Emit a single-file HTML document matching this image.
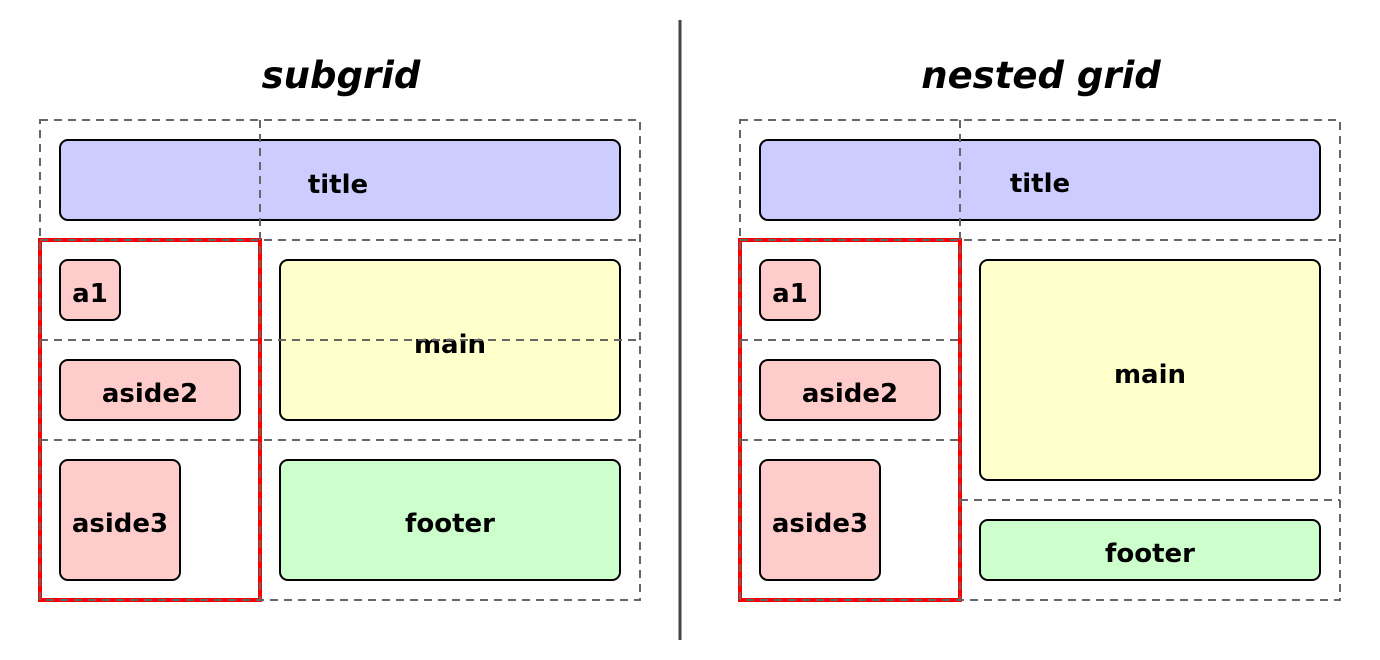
<!DOCTYPE html>
<html><head><meta charset="utf-8"><style>
html,body{margin:0;padding:0;background:#fff;}
svg{display:block;}
text{font-family:"DejaVu Sans","Liberation Sans",sans-serif;font-weight:bold;fill:#000;}
</style></head><body>
<svg width="1380" height="660" viewBox="0 0 1380 660" xmlns="http://www.w3.org/2000/svg">
<line x1="680" y1="20" x2="680" y2="640" stroke="#444" stroke-width="3"/>
<text x="341" y="88" font-size="37" font-style="italic" text-anchor="middle">subgrid</text>
<text x="1041" y="88" font-size="37" font-style="italic" text-anchor="middle">nested grid</text>

<g stroke="#000" stroke-width="2">
<rect x="60" y="140" width="560" height="80" rx="8" fill="#ccf"/>
<rect x="60" y="260" width="60" height="60" rx="8" fill="#fcc"/>
<rect x="60" y="360" width="180" height="60" rx="8" fill="#fcc"/>
<rect x="60" y="460" width="120" height="120" rx="8" fill="#fcc"/>
<rect x="280" y="260" width="340" height="160" rx="8" fill="#ffc"/>
<rect x="280" y="460" width="340" height="120" rx="8" fill="#cfc"/>

<rect x="760" y="140" width="560" height="80" rx="8" fill="#ccf"/>
<rect x="760" y="260" width="60" height="60" rx="8" fill="#fcc"/>
<rect x="760" y="360" width="180" height="60" rx="8" fill="#fcc"/>
<rect x="760" y="460" width="120" height="120" rx="8" fill="#fcc"/>
<rect x="980" y="260" width="340" height="220" rx="8" fill="#ffc"/>
<rect x="980" y="520" width="340" height="60" rx="8" fill="#cfc"/>
</g>

<g font-size="26" text-anchor="middle">
<text x="338" y="193">title</text>
<text x="90" y="302">a1</text>
<text x="150" y="402">aside2</text>
<text x="120" y="532">aside3</text>
<text x="450" y="353">main</text>
<text x="450" y="532">footer</text>

<text x="1040" y="192">title</text>
<text x="790" y="302">a1</text>
<text x="850" y="402">aside2</text>
<text x="820" y="532">aside3</text>
<text x="1150" y="383">main</text>
<text x="1150" y="562">footer</text>
</g>

<rect x="40" y="240" width="220" height="360" fill="none" stroke="#f00" stroke-width="4"/>
<rect x="740" y="240" width="220" height="360" fill="none" stroke="#f00" stroke-width="4"/>

<g stroke="#666" stroke-width="2" stroke-dasharray="8,6" fill="none">
<rect x="40" y="120" width="600" height="480"/>
<line x1="260" y1="120" x2="260" y2="600"/>
<line x1="40" y1="240" x2="640" y2="240"/>
<line x1="40" y1="340" x2="640" y2="340"/>
<line x1="40" y1="440" x2="640" y2="440"/>

<rect x="740" y="120" width="600" height="480"/>
<line x1="960" y1="120" x2="960" y2="600"/>
<line x1="740" y1="240" x2="1340" y2="240"/>
<line x1="740" y1="340" x2="960" y2="340"/>
<line x1="740" y1="440" x2="960" y2="440"/>
<line x1="960" y1="500" x2="1340" y2="500"/>
</g>
</svg>
</body></html>
